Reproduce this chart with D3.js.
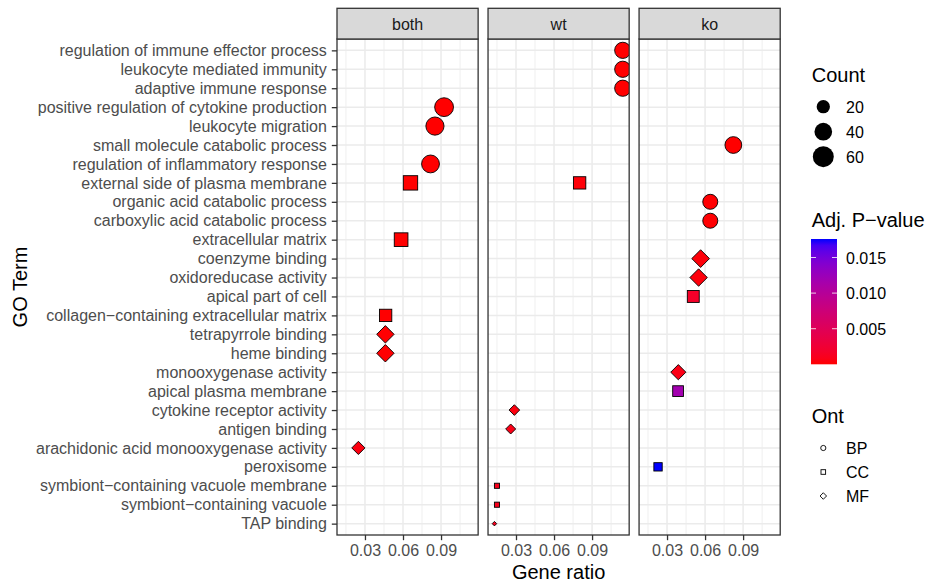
<!DOCTYPE html>
<html>
<head>
<meta charset="utf-8">
<script src="https://cdn.jsdelivr.net/npm/d3@7"></script>
<style>
  html, body { margin: 0; padding: 0; background: #fff; }
  svg { display: block; font-family: "Liberation Sans", Arial, Helvetica, sans-serif; }
</style>
</head>
<body>
<svg id="chart" width="928" height="583"></svg>
<script>
// GO terms, top to bottom, and the ontology each belongs to
const terms = [
  "regulation of immune effector process",
  "leukocyte mediated immunity",
  "adaptive immune response",
  "positive regulation of cytokine production",
  "leukocyte migration",
  "small molecule catabolic process",
  "regulation of inflammatory response",
  "external side of plasma membrane",
  "organic acid catabolic process",
  "carboxylic acid catabolic process",
  "extracellular matrix",
  "coenzyme binding",
  "oxidoreducase activity",
  "apical part of cell",
  "collagen\u2212containing extracellular matrix",
  "tetrapyrrole binding",
  "heme binding",
  "monooxygenase activity",
  "apical plasma membrane",
  "cytokine receptor activity",
  "antigen binding",
  "arachidonic acid monooxygenase activity",
  "peroxisome",
  "symbiont\u2212containing vacuole membrane",
  "symbiont\u2212containing vacuole",
  "TAP binding"
];
const termOnt = ["BP","BP","BP","BP","BP","BP","BP","CC","BP","BP","CC","MF","MF","CC",
                 "CC","MF","MF","MF","CC","MF","MF","MF","CC","CC","CC","MF"];

const panels = ["both", "wt", "ko"];

// Enriched terms per comparison (index into terms)
const dotPanel = ["both","both","both","both","both","both","both","both","both",
                  "wt","wt","wt","wt","wt","wt","wt","wt","wt",
                  "ko","ko","ko","ko","ko","ko","ko","ko","ko"];
const dotTerm  = [3, 4, 6, 7, 10, 14, 15, 16, 21,
                  0, 1, 2, 7, 19, 20, 23, 24, 25,
                  5, 8, 9, 11, 12, 13, 17, 18, 22];
const dotRatio = [0.0924, 0.0852, 0.0817, 0.0659, 0.0585, 0.0463, 0.0461, 0.0461, 0.0248,
                  0.1142, 0.1142, 0.1142, 0.0802, 0.0287, 0.0258, 0.0150, 0.0150, 0.0130,
                  0.0823, 0.0641, 0.0641, 0.0565, 0.0549, 0.0507, 0.0389, 0.0387, 0.0229];
const dotCount = [52, 48, 46, 37, 33, 26, 26, 26, 14,
                  37, 37, 37, 26, 9, 8, 5, 5, 4,
                  40, 31, 31, 27, 26, 24, 19, 19, 11];
const dotPadj  = [2.1e-9, 5.4e-9, 3.3e-8, 1.2e-6, 8.7e-6, 2.4e-5, 6.1e-5, 6.1e-5, 4.6e-4,
                  1.0e-7, 1.8e-7, 3.5e-7, 2.2e-4, 3.9e-4, 7.2e-4, 9.1e-4, 9.1e-4, 1.1e-3,
                  3.2e-6, 4.5e-5, 4.5e-5, 2.6e-4, 3.1e-4, 1.7e-3, 6.4e-4, 1.18e-2, 1.76e-2];

const xTicks = [0.03, 0.06, 0.09];
const xMinor = [0.015, 0.045, 0.075, 0.105];
const countBreaks = [20, 40, 60];
const padjBreaks = [0.005, 0.010, 0.015];
const ontLevels = ["BP", "CC", "MF"];

// ---- layout ----
const svg = d3.select("#chart");
const plotLeft = 337, plotRight = 780.2, gap = 9.9;
const panelTop = 39, panelBottom = 535, stripTop = 8.3;
const pw = (plotRight - plotLeft - gap * 2) / 3;
const ph = panelBottom - panelTop;
const font = '"Liberation Sans", Arial, Helvetica, sans-serif';

const dots = dotTerm.map((t, i) => ({
  panel: dotPanel[i], term: terms[t], ont: termOnt[t],
  ratio: dotRatio[i], count: dotCount[i], padj: dotPadj[i]
}));

// ---- scales ----
const [rLo, rHi] = d3.extent(dotRatio);
const rPad = (rHi - rLo) * 0.05;
const x = d3.scaleLinear().domain([rLo - rPad, rHi + rPad]).range([0, pw]);
const y = d3.scalePoint().domain(terms).range([0, ph]).padding(0.6);

const padjExtent = d3.extent(dotPadj);
const fill = d3.scaleLinear().domain(padjExtent).range(["red", "blue"]).interpolate(d3.interpolateLab);

// point size: area-proportional, like ggplot's scale_size (range 1..6)
const countMin = d3.min(dotCount), countLimit = 60;
const sizeRange = d3.scaleLinear().domain([0, 1]).range([1, 6]);
const pxPerSize = 3.29, strokeW = 0.9;
function diameter(c) {
  return pxPerSize * sizeRange(Math.sqrt((c - countMin) / (countLimit - countMin))) + 1.2;
}

function drawShape(g, shape, cx, cy, d, fillCol, stroke, sw) {
  const r = (d - sw) / 2;
  if (shape === "BP") {
    g.append("circle").attr("cx", cx).attr("cy", cy).attr("r", r)
      .attr("fill", fillCol).attr("stroke", stroke).attr("stroke-width", sw);
  } else if (shape === "CC") {
    const h = r * 0.8862269;
    g.append("rect").attr("x", cx - h).attr("y", cy - h).attr("width", 2 * h).attr("height", 2 * h)
      .attr("fill", fillCol).attr("stroke", stroke).attr("stroke-width", sw);
  } else {
    const h = r * 1.2533141;
    g.append("path").attr("d", `M${cx},${cy - h}L${cx + h},${cy}L${cx},${cy + h}L${cx - h},${cy}Z`)
      .attr("fill", fillCol).attr("stroke", stroke).attr("stroke-width", sw);
  }
}

// ---- panels ----
const defs = svg.append("defs");
panels.forEach((p, pi) => {
  const px = plotLeft + pi * (pw + gap);
  const g = svg.append("g").attr("transform", `translate(${px},${panelTop})`);

  defs.append("clipPath").attr("id", "clip-" + p)
    .append("rect").attr("x", 0).attr("y", 0).attr("width", pw).attr("height", ph);

  g.append("rect").attr("width", pw).attr("height", ph).attr("fill", "#fff");

  // minor and major grid
  g.selectAll(".minor").data(xMinor).join("line")
    .attr("x1", d => x(d)).attr("x2", d => x(d)).attr("y1", 0).attr("y2", ph)
    .attr("stroke", "#EBEBEB").attr("stroke-width", 0.8);
  g.selectAll(".majx").data(xTicks).join("line")
    .attr("x1", d => x(d)).attr("x2", d => x(d)).attr("y1", 0).attr("y2", ph)
    .attr("stroke", "#EBEBEB").attr("stroke-width", 1.5);
  g.selectAll(".majy").data(terms).join("line")
    .attr("x1", 0).attr("x2", pw).attr("y1", d => y(d)).attr("y2", d => y(d))
    .attr("stroke", "#EBEBEB").attr("stroke-width", 1.5);

  // dots
  const dg = g.append("g").attr("clip-path", `url(#clip-${p})`);
  dots.filter(d => d.panel === p).forEach(d => {
    drawShape(dg, d.ont, x(d.ratio), y(d.term), diameter(d.count), fill(d.padj), "#000", strokeW);
  });

  // border
  g.append("rect").attr("width", pw).attr("height", ph)
    .attr("fill", "none").attr("stroke", "#333333").attr("stroke-width", 1.3);

  // strip
  svg.append("rect").attr("x", px).attr("y", stripTop).attr("width", pw).attr("height", panelTop - stripTop)
    .attr("fill", "#D9D9D9").attr("stroke", "#333333").attr("stroke-width", 1.3);
  svg.append("text").attr("x", px + pw / 2).attr("y", 30).attr("text-anchor", "middle")
    .attr("font-size", 16).attr("fill", "#1A1A1A").text(p);

  // x axis
  const ax = svg.append("g").attr("transform", `translate(${px},${panelBottom})`)
    .call(d3.axisBottom(x).tickValues(xTicks).tickFormat(d3.format(".2f")).tickSize(5.2).tickPadding(4));
  ax.select(".domain").remove();
  ax.selectAll(".tick line").attr("stroke", "#333333").attr("stroke-width", 1.3);
  ax.selectAll(".tick text").attr("font-size", 16).attr("fill", "#4D4D4D").attr("font-family", font);
});

// y axis on the first panel
const ay = svg.append("g").attr("transform", `translate(${plotLeft},${panelTop})`)
  .call(d3.axisLeft(y).tickSize(5.2).tickPadding(5));
ay.select(".domain").remove();
ay.selectAll(".tick line").attr("stroke", "#333333").attr("stroke-width", 1.3);
ay.selectAll(".tick text").attr("font-size", 16).attr("fill", "#4D4D4D").attr("font-family", font);

// axis titles
svg.append("text").attr("x", (plotLeft + plotRight) / 2).attr("y", 579)
  .attr("text-anchor", "middle").attr("font-size", 20).attr("fill", "#000").text("Gene ratio");
svg.append("text").attr("transform", `translate(27,${(panelTop + panelBottom) / 2}) rotate(-90)`)
  .attr("text-anchor", "middle").attr("font-size", 20).attr("fill", "#000").text("GO Term");

// ---- legends ----
const legX = 811.7, keyX = 823.3, labX = 846;

// Count
svg.append("text").attr("x", legX).attr("y", 82).attr("font-size", 20).text("Count");
countBreaks.forEach((c, i) => {
  const cy = 106.7 + i * 25;
  svg.append("circle").attr("cx", keyX).attr("cy", cy).attr("r", diameter(c) / 2).attr("fill", "#000");
  svg.append("text").attr("x", labX).attr("y", cy + 6).attr("font-size", 16).attr("fill", "#000").text(c);
});

// Adj. P-value colour bar
svg.append("text").attr("x", legX).attr("y", 227).attr("font-size", 20).text("Adj. P\u2212value");
const barX = 811, barW = 26, barTop = 239, barBottom = 364.3;
const grad = defs.append("linearGradient").attr("id", "padjGrad")
  .attr("x1", 0).attr("y1", 1).attr("x2", 0).attr("y2", 0);
d3.range(0, 21).forEach(k => {
  const v = padjExtent[0] + (padjExtent[1] - padjExtent[0]) * k / 20;
  grad.append("stop").attr("offset", k / 20).attr("stop-color", fill(v));
});
svg.append("rect").attr("x", barX).attr("y", barTop).attr("width", barW).attr("height", barBottom - barTop)
  .attr("fill", "url(#padjGrad)");
const barY = d3.scaleLinear().domain(padjExtent).range([barBottom, barTop]);
padjBreaks.forEach(v => {
  const yy = barY(v);
  svg.append("line").attr("x1", barX).attr("x2", barX + 5).attr("y1", yy).attr("y2", yy)
    .attr("stroke", "#fff").attr("stroke-opacity", 0.8).attr("stroke-width", 1);
  svg.append("line").attr("x1", barX + barW - 5).attr("x2", barX + barW).attr("y1", yy).attr("y2", yy)
    .attr("stroke", "#fff").attr("stroke-opacity", 0.8).attr("stroke-width", 1);
  svg.append("text").attr("x", labX).attr("y", yy + 6).attr("font-size", 16).text(d3.format(".3f")(v));
});

// Ont shapes
svg.append("text").attr("x", legX).attr("y", 422.7).attr("font-size", 20).text("Ont");
ontLevels.forEach((o, i) => {
  const cy = 448 + i * 24;
  drawShape(svg, o, keyX, cy, 6.1, "none", "#000", 0.9);
  svg.append("text").attr("x", labX).attr("y", cy + 6).attr("font-size", 16).text(o);
});
</script>
</body>
</html>
